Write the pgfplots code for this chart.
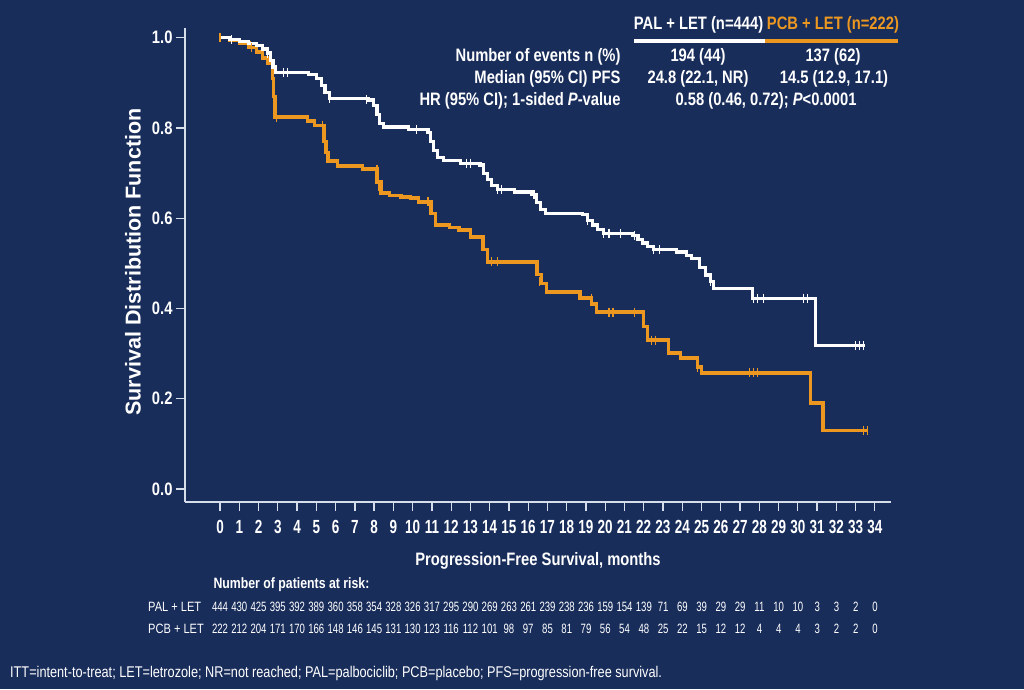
\documentclass[border=0pt]{standalone}
\usepackage{pgfplots}
\pgfplotsset{compat=1.18}
\usepackage{fontspec}
\setmainfont{Liberation Sans}
\newfontfamily\narrow[FakeStretch=0.82]{Liberation Sans}
\newfontfamily\vnarrow[FakeStretch=0.71]{Liberation Sans}
\definecolor{bgcol}{RGB}{25,45,91}
\definecolor{orng}{RGB}{236,152,32}
\definecolor{axcol}{RGB}{215,222,235}
\newcommand\hfont{\narrow\bfseries\fontsize{18}{18}\selectfont}
\newcommand\rfont{\vnarrow\fontsize{13.5}{13.5}\selectfont}
\begin{document}
\begin{tikzpicture}
\path[use as bounding box] (0pt,0pt) rectangle (1024pt,-689pt);
\fill[bgcol] (0pt,0pt) rectangle (1024pt,-689pt);
\begin{axis}[
  at={(185pt,-502pt)}, anchor=south west,
  scale only axis, width=706pt, height=474pt,
  xmin=-1.82, xmax=34.84, ymin=-0.029, ymax=1.0215,
  axis x line*=bottom, axis y line*=left,
  axis line style={-,draw=axcol,line width=1.3pt},
  xtick={0,...,34}, ytick={0,0.2,0.4,0.6,0.8,1.0},
  tick align=outside, major tick length=9pt,
  tick style={draw=axcol,line width=1.3pt},
  yticklabel style={/pgf/number format/fixed,/pgf/number format/fixed zerofill,/pgf/number format/precision=1},
  xticklabel style={yshift=-6pt, font=\vnarrow\bfseries\fontsize{19}{19}\selectfont},
  ticklabel style={text=white},
  yticklabel style={font=\hfont},
  /pgf/number format/assume math mode=true,
  clip=false,
]
% PCB + LET
\addplot[const plot, orng, line width=3.4pt] coordinates {
(0,1.0)(0.5,0.995)(1.0,0.988)(1.5,0.978)(1.9,0.968)(2.2,0.955)(2.45,0.944)(2.72,0.91)(2.78,0.87)(2.85,0.824)
(4.55,0.815)(4.9,0.806)(5.4,0.77)(5.5,0.745)(5.6,0.727)(6.1,0.716)(7.4,0.709)(8.15,0.68)(8.35,0.656)
(8.8,0.65)(9.4,0.647)(9.9,0.645)(10.3,0.636)(10.95,0.61)(11.2,0.585)(11.9,0.58)(12.4,0.574)(13.0,0.558)
(13.65,0.53)(13.9,0.503)(16.45,0.475)(16.7,0.455)(16.95,0.436)(18.7,0.423)(19.3,0.41)(19.55,0.392)
(22.0,0.36)(22.2,0.33)(23.3,0.301)(23.9,0.29)(24.8,0.27)(25.0,0.257)(30.65,0.19)(31.3,0.129)(33.6,0.129)
};
\addplot[only marks, orng, mark=|, mark size=4.5pt, mark options={line width=1.2pt}] coordinates {
(0,1.0)(1.65,0.978)(2.75,0.89)(2.95,0.824)(5.3,0.806)(5.45,0.76)(8.15,0.709)(8.25,0.67)(10.8,0.636)
(14.1,0.503)(14.4,0.503)(16.6,0.46)(19.3,0.423)(20.2,0.392)(20.4,0.392)(21.5,0.392)(22.4,0.33)(22.6,0.33)
(24.8,0.27)(27.5,0.257)(27.7,0.257)(27.9,0.257)(33.4,0.129)(33.6,0.129)
};
% PAL + LET
\addplot[const plot, white, line width=3.1pt] coordinates {
(0,1.0)(0.5,0.996)(1.0,0.992)(1.5,0.988)(1.9,0.982)(2.2,0.975)(2.45,0.966)(2.6,0.95)(2.75,0.935)(2.9,0.922)
(4.6,0.918)(5.0,0.91)(5.25,0.895)(5.45,0.878)(5.7,0.866)(7.7,0.862)(7.95,0.85)(8.15,0.83)(8.3,0.81)(8.5,0.802)
(9.8,0.797)(10.8,0.79)(10.95,0.77)(11.1,0.75)(11.3,0.735)(11.6,0.728)(12.5,0.722)(13.5,0.718)(13.7,0.7)
(13.9,0.685)(14.1,0.672)(14.4,0.663)(15.3,0.658)(16.2,0.652)(16.45,0.635)(16.65,0.62)(16.9,0.611)
(18.8,0.609)(19.1,0.595)(19.35,0.585)(19.6,0.575)(19.9,0.567)(21.4,0.562)(21.7,0.553)(21.95,0.545)
(22.2,0.537)(22.5,0.53)(23.7,0.525)(24.2,0.518)(24.5,0.51)(24.9,0.49)(25.2,0.474)(25.45,0.459)(25.6,0.445)
(27.65,0.423)(30.9,0.318)(33.5,0.318)
};
\addplot[only marks, white, mark=|, mark size=4.5pt, mark options={line width=1.2pt}] coordinates {
(0.6,0.996)(2.45,0.966)(3.3,0.922)(3.5,0.922)(5.7,0.866)(7.6,0.862)(10.2,0.797)(12.8,0.722)(13.0,0.722)
(14.4,0.663)(14.6,0.663)(16.3,0.652)(19.1,0.595)(19.9,0.567)(20.2,0.567)(20.8,0.567)(21.5,0.562)
(22.5,0.53)(22.8,0.53)(25.45,0.459)(27.7,0.423)(27.9,0.423)(28.2,0.423)(30.3,0.423)(30.5,0.423)
(33.0,0.318)(33.2,0.318)(33.4,0.318)
};
\end{axis}
% axis labels
\node[text=white, font=\hfont] at (538pt,-561pt) {Progression-Free Survival, months};
\node[text=white, font=\bfseries\fontsize{21.5}{21.5}\selectfont, rotate=90] at (133pt,-262pt) {Survival Distribution Function};
% top-right table
\node[text=white, font=\hfont] at (698.5pt,-25pt) {PAL + LET (n=444)};
\node[text=orng, font=\hfont] at (833pt,-25pt) {PCB + LET (n=222)};
\draw[white, line width=3.5pt] (634pt,-41pt) -- (765pt,-41pt);
\draw[orng, line width=3.5pt] (765pt,-41pt) -- (898pt,-41pt);
\node[text=white, font=\hfont, anchor=east] at (624pt,-57pt) {Number of events n (\%)};
\node[text=white, font=\hfont, anchor=east] at (624pt,-79pt) {Median (95\% CI) PFS};
\node[text=white, font=\hfont, anchor=east] at (624pt,-101pt) {HR (95\% CI); 1-sided \textit{P}-value};
\node[text=white, font=\hfont] at (698pt,-57pt) {194 (44)};
\node[text=white, font=\hfont] at (833pt,-57pt) {137 (62)};
\node[text=white, font=\hfont] at (698pt,-79pt) {24.8 (22.1, NR)};
\node[text=white, font=\hfont] at (834pt,-79pt) {14.5 (12.9, 17.1)};
\node[text=white, font=\hfont] at (766pt,-101pt) {0.58 (0.46, 0.72); \textit{P}<0.0001};
% risk table
\node[text=white, font=\narrow\bfseries\fontsize{15}{15}\selectfont, anchor=west] at (210pt,-585pt) {Number of patients at risk:};
\node[text=white, font=\narrow\fontsize{13.5}{13.5}\selectfont, anchor=west, inner sep=0pt] at (148pt,-607pt) {PAL + LET};
\node[text=white, font=\narrow\fontsize{13.5}{13.5}\selectfont, anchor=west, inner sep=0pt] at (148pt,-629pt) {PCB + LET};
\foreach \v [count=\i from 0] in {444,430,425,395,392,389,360,358,354,328,326,317,295,290,269,263,261,239,238,236,159,154,139,71,69,39,29,29,11,10,10,3,3,2,0}
  \node[text=white, font=\rfont, inner sep=0pt] at ({220pt+19.265pt*\i},-607pt) {\v};
\foreach \v [count=\i from 0] in {222,212,204,171,170,166,148,146,145,131,130,123,116,112,101,98,97,85,81,79,56,54,48,25,22,15,12,12,4,4,4,3,2,2,0}
  \node[text=white, font=\rfont, inner sep=0pt] at ({220pt+19.265pt*\i},-629pt) {\v};
% footnote
\node[text=white, font=\narrow\fontsize{15.5}{15.5}\selectfont, anchor=west, inner sep=0pt] at (10pt,-673pt) {ITT=intent-to-treat; LET=letrozole; NR=not reached; PAL=palbociclib; PCB=placebo; PFS=progression-free survival.};
\end{tikzpicture}
\end{document}
